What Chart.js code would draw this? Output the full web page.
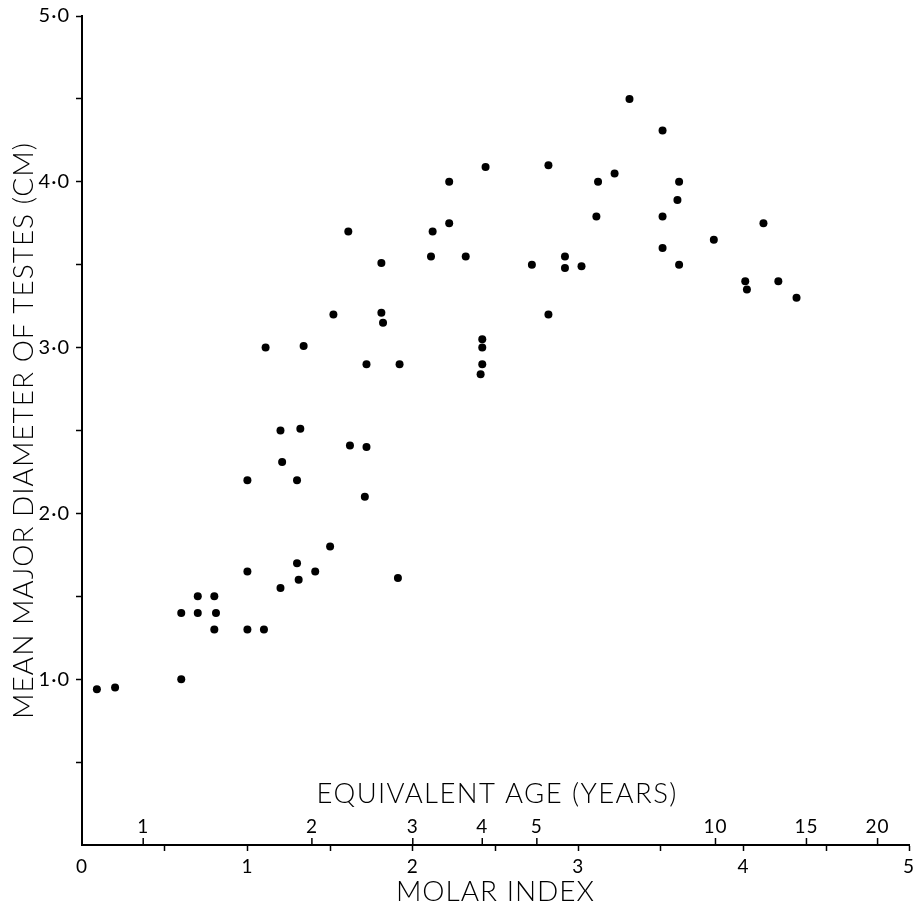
<!DOCTYPE html>
<html lang="en">
<head>
<meta charset="UTF-8">
<title>Testes diameter vs molar index</title>
<script src="https://cdn.jsdelivr.net/npm/chart.js"></script>
<style>
  html, body { margin: 0; padding: 0; background: #fff; }
  #wrap { width: 919px; height: 910px; }
</style>
</head>
<body>
<div id="wrap"><canvas id="chart" width="919" height="910"></canvas></div>
<script>
// values: molar index (x) and mean major diameter in cm (y)
const molarIndex = [
  0.09, 0.20, 0.60, 0.60, 0.70, 0.70, 0.80, 0.81, 0.80, 1.00,
  1.10, 1.00, 1.20, 1.31, 1.30, 1.41, 1.50, 1.91, 1.71, 1.00,
  1.30, 1.21, 1.20, 1.32, 1.62, 1.72, 1.72, 1.92, 1.11, 1.34,
  1.52, 1.81, 1.82, 1.81, 1.61, 2.11, 2.12, 2.22, 2.22, 2.32,
  2.44, 2.42, 2.42, 2.42, 2.41, 2.72, 2.82, 2.82, 2.92, 2.92,
  3.02, 3.11, 3.12, 3.22, 3.31, 3.51, 3.61, 3.60, 3.51, 3.51,
  3.61, 3.82, 4.12, 4.01, 4.02, 4.21, 4.32
];
const diameter = [
  0.94, 0.95, 1.00, 1.40, 1.40, 1.50, 1.50, 1.40, 1.30, 1.30,
  1.30, 1.65, 1.55, 1.60, 1.70, 1.65, 1.80, 1.61, 2.10, 2.20,
  2.20, 2.31, 2.50, 2.51, 2.41, 2.40, 2.90, 2.90, 3.00, 3.01,
  3.20, 3.21, 3.15, 3.51, 3.70, 3.55, 3.70, 3.75, 4.00, 3.55,
  4.09, 3.05, 3.00, 2.90, 2.84, 3.50, 4.10, 3.20, 3.55, 3.48,
  3.49, 3.79, 4.00, 4.05, 4.50, 4.31, 4.00, 3.89, 3.79, 3.60,
  3.50, 3.65, 3.75, 3.40, 3.35, 3.40, 3.30
];

// axis labels
const molarTicks = [0, 1, 2, 3, 4, 5];
const diamTicks = [1, 2, 3, 4, 5];
const diamTickLabels = ['1·0', '2·0', '3·0', '4·0', '5·0'];

// equivalent age scale, marked on the inside of the x axis
const ageLabels = ['1', '2', '3', '4', '5', '10', '15', '20'];
const ageAtMolar = [0.37, 1.39, 2.0, 2.42, 2.75, 3.83, 4.38, 4.81];

const FONT = 'Lato, "DejaVu Sans", sans-serif';
const INK = '#000';

const points = molarIndex.map((m, i) => ({ x: m, y: diameter[i] }));

// the lettering of the original is set quite wide
const wideText = {
  id: 'wideText',
  beforeDraw(chart) {
    chart.ctx.letterSpacing = '1px';
  }
};

// draws the equivalent-age ticks and labels above the molar index axis
const ageAxis = {
  id: 'ageAxis',
  afterDraw(chart) {
    const { ctx, chartArea, scales: { x } } = chart;
    const base = chartArea.bottom;
    ctx.save();
    ctx.strokeStyle = '#000';
    ctx.lineWidth = 1.5;
    ctx.fillStyle = INK;
    ctx.textAlign = 'center';
    ctx.textBaseline = 'middle';
    ctx.font = '19px ' + FONT;
    ageAtMolar.forEach((m, i) => {
      const px = x.getPixelForValue(m);
      ctx.beginPath();
      ctx.moveTo(px, base);
      ctx.lineTo(px, base - 7);
      ctx.stroke();
      ctx.fillText(ageLabels[i], px, base - 18);
    });
    ctx.font = '300 27.5px ' + FONT;
    ctx.letterSpacing = '1.4px';
    ctx.fillText('EQUIVALENT AGE (YEARS)', x.getPixelForValue(2.51), base - 51);
    ctx.restore();
  }
};

const hideAtZero = c => (c.tick && c.tick.value === 0) ? 'rgba(0,0,0,0)' : '#000';

new Chart(document.getElementById('chart'), {
  type: 'scatter',
  data: {
    datasets: [{
      data: points,
      backgroundColor: '#000',
      borderWidth: 0,
      pointRadius: 4,
      pointHoverRadius: 4
    }]
  },
  plugins: [wideText, ageAxis],
  options: {
    responsive: false,
    animation: false,
    layout: { padding: { top: 16, right: 10, left: 0, bottom: 0 } },
    plugins: {
      legend: { display: false },
      tooltip: { enabled: false }
    },
    scales: {
      x: {
        type: 'linear',
        min: 0,
        max: 5,
        afterFit: s => { s.height = 65; },
        border: { display: true, color: '#000', width: 2 },
        grid: { drawOnChartArea: false, drawTicks: true, tickLength: 6, tickWidth: 1.5, tickColor: hideAtZero },
        ticks: {
          stepSize: 0.5,
          autoSkip: false,
          maxRotation: 0,
          padding: 4,
          color: INK,
          font: { family: FONT, size: 19 },
          callback: v => molarTicks.includes(v) ? String(v) : ''
        },
        title: {
          display: true,
          text: 'MOLAR INDEX',
          color: INK,
          font: { family: FONT, size: 28, weight: 300 },
          padding: { top: 0, bottom: 1 }
        }
      },
      y: {
        type: 'linear',
        min: 0,
        max: 5,
        afterFit: s => { s.width = 82; },
        border: { display: true, color: '#000', width: 2 },
        grid: { drawOnChartArea: false, drawTicks: true, tickLength: 6, tickWidth: 1.5, tickColor: hideAtZero },
        ticks: {
          stepSize: 0.5,
          autoSkip: false,
          padding: 6,
          color: INK,
          font: { family: FONT, size: 20, lineHeight: 1 },
          callback: v => {
            const i = diamTicks.indexOf(v);
            return i >= 0 ? diamTickLabels[i] : '';
          }
        },
        title: {
          display: true,
          text: 'MEAN MAJOR DIAMETER OF TESTES (CM)',
          color: INK,
          font: { family: FONT, size: 28, weight: 300 },
          padding: { top: 7, bottom: 0 }
        }
      }
    }
  }
});
</script>
</body>
</html>
